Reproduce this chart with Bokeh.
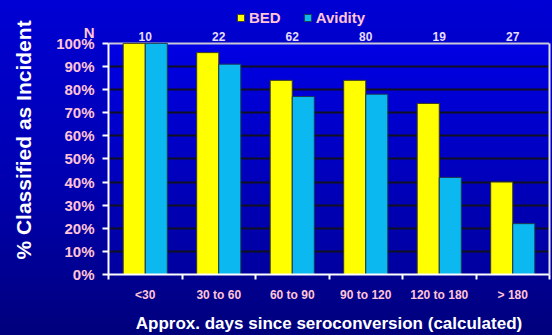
import numpy as np
from bokeh.plotting import figure
from bokeh.models import (FixedTicker, LinearAxis, Range1d, Legend, LegendItem,
                          ColumnDataSource, Grid)
from bokeh.core.properties import value
from bokeh.transform import dodge
from bokeh.embed import file_html
from bokeh.resources import INLINE

categories = ["<30", "30 to 60", "60 to 90", "90 to 120", "120 to 180", "> 180"]
counts = ["10", "22", "62", "80", "19", "27"]
bed = [100, 96, 84, 84, 74, 40]
avidity = [100, 91, 77, 78, 42, 22]
y_ticks = [0, 10, 20, 30, 40, 50, 60, 70, 80, 90, 100]

FONT = "Liberation Sans"
PINK = "#ffc4d6"
LAV = "#e4dcff"
YELLOW = "#ffff00"
CYAN = "#0cb8f0"

n = len(categories)
centers = [i + 0.5 for i in range(n)]
bw = 0.3

H, TOPB, BOTB = 335, 5, 60
px_per_unit = 232 / 100.0
Y_MAX = (H - TOPB - BOTB) / px_per_unit   # room above 100% for legend & counts
COUNT_Y = 101.0
N_Y = 104.6

p = figure(width=552, height=H, output_backend="svg", toolbar_location=None,
           x_range=Range1d(0, n), y_range=Range1d(0, Y_MAX),
           min_border_left=108, min_border_right=3, min_border_top=TOPB,
           min_border_bottom=BOTB, x_axis_location=None, y_axis_location=None)
p.styles = {"background": "linear-gradient(#0000d4 0%, #0000b0 55%, #00007c 100%)"}
p.border_fill_alpha = 0
p.background_fill_alpha = 0
p.outline_line_color = None

# plot-area gradient (decoration)
grad = np.zeros((100, 1), dtype=np.uint32)
view = grad.view(dtype=np.uint8).reshape((100, 1, 4))
for r in range(100):
    b = int(0xa0 + (0xe4 - 0xa0) * r / 99)
    view[r, 0] = [0, 0, b, 255]
p.image_rgba(image=[grad], x=0, y=0, dw=n, dh=100, level="image")

src = ColumnDataSource(dict(x=centers, bed=bed, av=avidity, cnt=counts,
                            cy=[COUNT_Y] * n))
r1 = p.vbar(x=dodge("x", -bw / 2, range=p.x_range), top="bed", width=bw, source=src,
            fill_color=YELLOW, line_color="#3a3a20", line_width=1)
r2 = p.vbar(x=dodge("x", bw / 2, range=p.x_range), top="av", width=bw, source=src,
            fill_color=CYAN, line_color="#1a3a50", line_width=1)

p.text(x="x", y="cy", text="cnt", source=src, text_align="center",
       text_baseline="bottom", text_color=LAV, text_font=value(FONT),
       text_font_style="bold", text_font_size="12px")

# ---- left: axis line + ticks (0..100 only) ----
yline = LinearAxis(ticker=FixedTicker(ticks=y_ticks), bounds=(0, 100),
                   major_label_overrides={t: "" for t in y_ticks})
yline.axis_line_color = "white"
yline.axis_line_width = 2
yline.major_tick_line_color = "white"
yline.major_tick_line_width = 2
yline.major_tick_out = 6
yline.major_tick_in = 0
yline.minor_tick_line_color = None
yline.major_label_standoff = 0
yline.major_label_text_font_size = "1px"
p.add_layout(yline, "left")

# ---- left: labels, "N" and title ----
ylab = LinearAxis(ticker=FixedTicker(ticks=y_ticks + [N_Y]),
                  major_label_overrides={**{t: f"{t}%" for t in y_ticks}, N_Y: "N"},
                  axis_label="% Classified as Incident")
ylab.axis_line_color = None
ylab.major_tick_line_color = None
ylab.minor_tick_line_color = None
ylab.major_tick_out = 0
ylab.major_tick_in = 0
ylab.major_label_text_color = PINK
ylab.major_label_text_font = FONT
ylab.major_label_text_font_style = "bold"
ylab.major_label_text_font_size = "15px"
ylab.major_label_standoff = 8
ylab.axis_label_text_color = "white"
ylab.axis_label_text_font = FONT
ylab.axis_label_text_font_style = "bold"
ylab.axis_label_text_font_size = "21px"
ylab.axis_label_standoff = 18
p.add_layout(ylab, "left")

# ---- right border ----
rax = LinearAxis(ticker=FixedTicker(ticks=[]), bounds=(0, 100))
rax.axis_line_color = "#e0e0f0"
rax.axis_line_width = 2
rax.major_tick_out = 0
rax.major_tick_in = 0
rax.major_label_standoff = 0
rax.major_label_text_font_size = "1px"
p.add_layout(rax, "right")

# ---- bottom: categories ----
xax = LinearAxis(ticker=FixedTicker(ticks=centers, minor_ticks=list(range(n + 1))),
                 major_label_overrides={c: lab for c, lab in zip(centers, categories)},
                 axis_label="Approx. days since seroconversion (calculated)")
xax.axis_line_color = "white"
xax.axis_line_width = 2
xax.major_tick_line_color = None
xax.major_tick_out = 0
xax.major_tick_in = 0
xax.minor_tick_line_color = "white"
xax.minor_tick_line_width = 2
xax.minor_tick_out = 5
xax.minor_tick_in = 0
xax.major_label_text_color = PINK
xax.major_label_text_font = FONT
xax.major_label_text_font_style = "bold"
xax.major_label_text_font_size = "12px"
xax.major_label_standoff = 8
xax.axis_label_text_color = "white"
xax.axis_label_text_font = FONT
xax.axis_label_text_font_style = "bold"
xax.axis_label_text_font_size = "17px"
xax.axis_label_standoff = 9
p.add_layout(xax, "below")

# ---- grids ----
p.xgrid.visible = False
p.ygrid.ticker = FixedTicker(ticks=y_ticks[1:-1])
p.ygrid.grid_line_color = "#101020"
p.ygrid.grid_line_width = 2
p.add_layout(Grid(dimension=1, ticker=FixedTicker(ticks=[100]),
                  grid_line_color="#c8c8d8", grid_line_width=2))

legend = Legend(items=[LegendItem(label="BED", renderers=[r1]),
                       LegendItem(label="Avidity", renderers=[r2])],
                location=(128, 248), orientation="horizontal",
                padding=0, margin=0, spacing=22, glyph_width=9, glyph_height=9,
                label_standoff=4, label_height=15,
                background_fill_alpha=0, border_line_color=None,
                label_text_color=PINK, label_text_font=FONT,
                label_text_font_style="bold", label_text_font_size="15px")
p.add_layout(legend, "center")

open("out.html", "w").write(file_html(p, INLINE))
